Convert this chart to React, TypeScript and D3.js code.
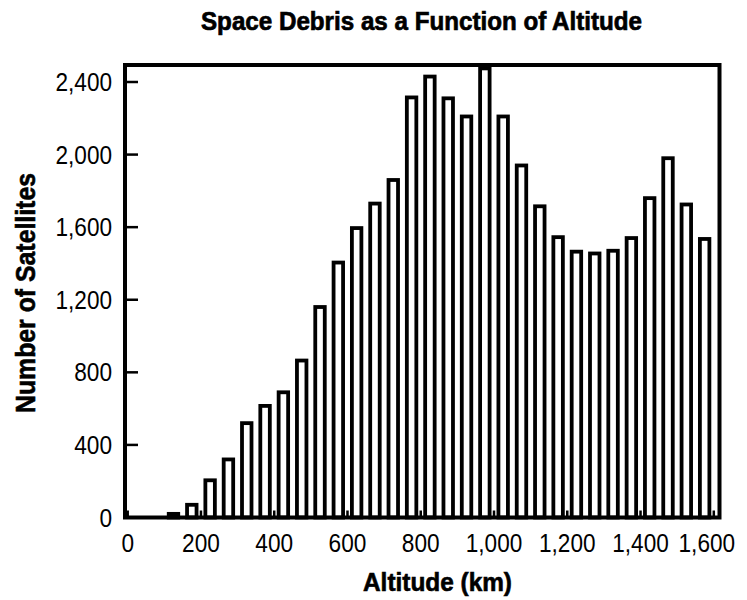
import React from "react";
import * as d3 from "d3";

const altitudes = [125, 175, 225, 275, 325, 375, 425, 475, 525, 575, 625, 675, 725, 775, 825, 875, 925, 975, 1025, 1075, 1125, 1175, 1225, 1275, 1325, 1375, 1425, 1475, 1525, 1575];
const counts = [20, 70, 205, 320, 520, 615, 690, 865, 1160, 1405, 1595, 1730, 1860, 2315, 2430, 2310, 2210, 2475, 2210, 1940, 1715, 1545, 1465, 1455, 1470, 1540, 1760, 1980, 1725, 1535];
const xTicks = [0, 200, 400, 600, 800, 1000, 1200, 1400, 1600];
const yTicks = [0, 400, 800, 1200, 1600, 2000, 2400];

const title = "Space Debris as a Function of Altitude";
const xLabel = "Altitude (km)";
const yLabel = "Number of Satellites";

export default function App() {
  const W = 747, H = 600;
  const frame = { left: 125, right: 719.5, top: 65, bottom: 517.5 };
  const x = d3.scaleLinear().domain([0, 1600]).range([127.7, 713.8]);
  const y = d3.scaleLinear().domain([0, 2400]).range([517.5, 82]);
  const fmt = d3.format(",");
  const barW = 9.5;
  const font = "'Liberation Sans', Arial, Helvetica, sans-serif";
  const tickW = (t: number) => fmt(t).length * 12.6 - (t >= 1000 ? 6.5 : 0);

  return (
    <svg width={W} height={H} style={{ position: "absolute", left: 0, top: 0, background: "#fff" }}>
      <rect x={0} y={0} width={W} height={H} fill="#fff" />
      <text x={421.5} y={30} textAnchor="middle" fontFamily={font} fontWeight="bold" fontSize={26}
        stroke="#000" strokeWidth={0.7}
        textLength={441} lengthAdjust="spacingAndGlyphs">{title}</text>

      {altitudes.map((a, i) => (
        <rect key={a} x={x(a) - barW / 2} y={y(counts[i])} width={barW}
          height={y(0) - y(counts[i])} fill="#fff" stroke="#000" strokeWidth={3.8} />
      ))}

      {yTicks.map(t => (
        <g key={t}>
          <line x1={frame.left} x2={frame.left + 13} y1={y(t)} y2={y(t)} stroke="#000" strokeWidth={2.5} />
          <text x={112} y={y(t) + 9} textAnchor="end" fontFamily={font} fontSize={25}
            textLength={tickW(t)} lengthAdjust="spacingAndGlyphs">{fmt(t)}</text>
        </g>
      ))}
      {xTicks.map(t => (
        <g key={t}>
          <line x1={x(t)} x2={x(t)} y1={frame.bottom} y2={frame.bottom - 7} stroke="#000" strokeWidth={2.5} />
          <text x={t === 1600 ? x(t) - 7 : x(t)} y={552} textAnchor="middle" fontFamily={font} fontSize={25}
            textLength={tickW(t)} lengthAdjust="spacingAndGlyphs">{fmt(t)}</text>
        </g>
      ))}

      <rect x={frame.left} y={frame.top} width={frame.right - frame.left} height={frame.bottom - frame.top}
        fill="none" stroke="#000" strokeWidth={4} />

      <text x={437.5} y={591} textAnchor="middle" fontFamily={font} fontWeight="bold" fontSize={25}
        stroke="#000" strokeWidth={0.6}
        textLength={149} lengthAdjust="spacingAndGlyphs">{xLabel}</text>
      <text transform="translate(35,293) rotate(-90)" textAnchor="middle" fontFamily={font} fontWeight="bold"
        fontSize={27} stroke="#000" strokeWidth={0.6}
        textLength={240} lengthAdjust="spacingAndGlyphs">{yLabel}</text>
    </svg>
  );
}
